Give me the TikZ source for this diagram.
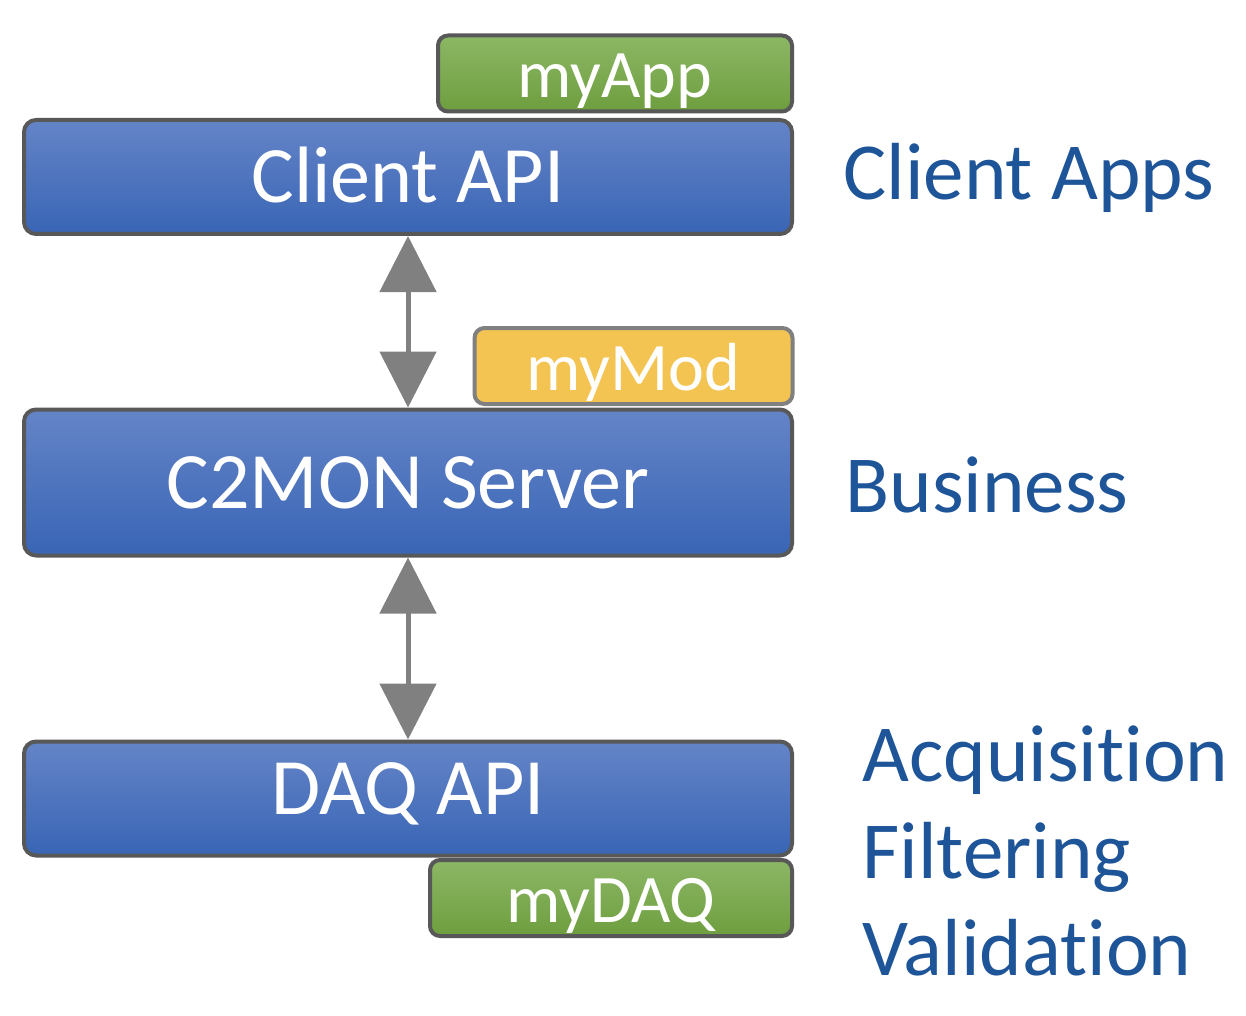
\documentclass[tikz,border=0pt]{standalone}
\usepackage{fontspec}
\setmainfont{Carlito}[Ligatures={NoCommon}]
\usetikzlibrary{arrows.meta}
\definecolor{boxline}{RGB}{88,88,88}
\definecolor{modline}{RGB}{128,128,128}
\definecolor{bluetop}{RGB}{100,132,199}
\definecolor{bluebot}{RGB}{57,101,181}
\definecolor{greentop}{RGB}{140,183,101}
\definecolor{greenbot}{RGB}{110,158,63}
\definecolor{modfill}{RGB}{243,196,81}
\definecolor{layertext}{RGB}{30,84,152}
\tikzset{
  layer/.style={draw=boxline, line width=2pt, rounded corners=6pt,
    top color=bluetop, bottom color=bluebot, text=white,
    minimum width=384pt, text height=26pt, text depth=0pt,
    font=\fontsize{40}{48}\selectfont},
  plugin/.style={draw=boxline, line width=2pt, rounded corners=5pt,
    top color=greentop, bottom color=greenbot, text=white,
    minimum height=38pt, text height=24pt, text depth=0pt,
    font=\fontsize{34}{40}\selectfont},
  module/.style={plugin, draw=modline, fill=modfill, top color=modfill, bottom color=modfill},
  tier/.style={text=layertext, inner sep=0pt, align=left,
    font=\fontsize{40.5}{48.5}\selectfont},
  link/.style={draw=modline, line width=2.5pt,
    {Triangle[length=28pt,width=28pt]}-{Triangle[length=28pt,width=28pt]}}
}
\begin{document}
\begin{tikzpicture}[x=0.5pt,y=-0.5pt]
      \useasboundingbox (0,0) rectangle (1246,1016);
      \node[layer, minimum height=57pt] (client) at (408,177) {Client API};
      \node[plugin, minimum width=177pt] (myapp) at (615,73.5) {myApp};
      \node[layer, minimum height=73pt] (server) at (408,482.5) {C2MON Server};
      \node[module, minimum width=159pt] (mymod) at (633.5,366) {myMod};
      \node[layer, minimum height=57pt, text depth=10.5pt] (daq) at (408,798.5) {DAQ API};
      \node[plugin, minimum width=181pt] (mydaq) at (611,898) {myDAQ};
      \draw[link] (client.south) -- (server.north);
      \draw[link] (server.south) -- (daq.north);
      \node[tier, anchor=base west] (apps) at (843,200) {Client Apps};
      \node[tier, anchor=base west] (business) at (845,512) {Business};
      \node[tier, anchor=north west] (acq) at (862,725) {Acquisition\\Filtering\\Validation};
    \end{tikzpicture}
\end{document}
